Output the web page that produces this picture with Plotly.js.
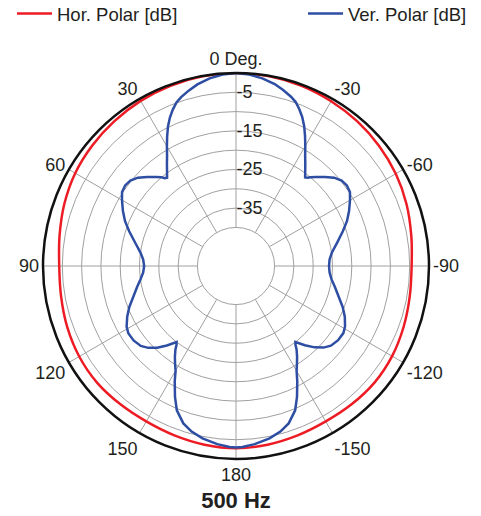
<!DOCTYPE html>
<html>
<head>
<meta charset="utf-8">
<script src="https://cdn.plot.ly/plotly-3.0.1.min.js"></script>
<style>html,body{margin:0;padding:0;background:#fff;}#chart{width:481px;height:516px;}</style>
</head>
<body>
<div id="chart"></div>
<script>
// Angular tick positions and labels
const angleTicks = [0, 30, 60, 90, 120, 150, 180, 210, 240, 270, 300, 330];
const angleLabels = ["0 Deg.", "30", "60", "90", "120", "150", "180", "-150", "-120", "-90", "-60", "-30"];
// Radial ticks (dB)
const radialTicks = [-40, -35, -30, -25, -20, -15, -10, -5];
const radialLabels = ["", "-35", "", "-25", "", "-15", "", "-5"];

// Horizontal polar [dB]
const horTheta = [-180, -170, -160, -150, -140, -130, -120, -110, -100, -90, -80, -70, -60, -50, -40, -30, -20, -10,
  0, 10, 20, 30, 40, 50, 60, 70, 80, 90, 100, 110, 120, 130, 140, 150, 160, 170, 180];
const horDb = [-2.8, -3.0, -3.3, -3.5, -3.3, -3.1, -3.3, -3.8, -4.3, -4.5, -3.9, -3.0, -2.2, -1.6, -1.1, -0.7, -0.3, -0.1,
  0, -0.1, -0.3, -0.6, -1.0, -1.4, -1.9, -2.7, -3.6, -4.2, -4.0, -3.5, -3.1, -3.0, -3.3, -3.5, -3.3, -3.0, -2.8];

// Vertical polar [dB]
const verTheta = [-180, -178, -174, -169, -165, -161.5, -157.7, -155, -152, -150, -148, -146, -144, -143, -142,
  -139, -136, -133, -130, -126, -122, -119, -115, -111, -107, -102, -98, -94, -90, -86, -82, -77, -72, -68, -64,
  -60, -57, -54, -51, -48, -45, -42, -40, -39, -38, -36, -34, -32, -30, -28, -26, -24, -22, -20, -18, -15, -12,
  -8, -4, 0, 4, 8, 12, 15, 18, 20, 22, 24, 26, 28, 30, 32, 34, 36, 38, 39, 40, 42, 45, 48, 51, 54, 57, 60, 64,
  68, 72, 77, 82, 86, 90, 94, 98, 102, 107, 111, 115, 119, 122, 126, 130, 133, 136, 139, 142, 143, 144, 146,
  148, 150, 152, 155, 157.7, 161.5, 165, 169, 174, 178, 180];
const verDb = [-3.0, -3.1, -3.6, -4.5, -5.6, -7.0, -9.6, -12.6, -16.2, -18.6, -20.2, -21.7, -23.3, -24.4, -25.0,
  -22.8, -20.7, -19.0, -17.9, -17.3, -17.2, -17.7, -18.9, -20.4, -22.1, -23.8, -25.0, -25.7, -25.9, -25.7, -24.9,
  -23.1, -20.9, -19.0, -17.4, -15.9, -14.8, -14.5, -14.8, -15.8, -17.4, -19.0, -20.0, -20.6, -20.9, -19.5, -17.9,
  -16.2, -14.1, -11.9, -9.7, -7.8, -6.2, -4.8, -3.9, -2.8, -1.8, -0.9, -0.3, 0, -0.3, -0.9, -1.9, -2.9, -4.0,
  -4.9, -6.3, -7.9, -9.8, -12.0, -14.2, -16.3, -18.0, -19.6, -21.0, -20.7, -20.0, -19.0, -17.4, -15.8, -14.8,
  -14.5, -14.8, -15.9, -17.4, -19.0, -20.9, -23.2, -25.0, -25.9, -26.2, -25.9, -25.0, -23.8, -22.1, -20.4, -18.9,
  -17.6, -17.1, -17.2, -17.8, -18.9, -20.6, -22.7, -25.0, -24.4, -23.3, -21.7, -20.2, -18.7, -16.2, -12.6, -9.6,
  -7.0, -5.6, -4.5, -3.6, -3.1, -3.0];

const FONT = "Liberation Sans, Arial, Helvetica, sans-serif";
const TXT = "#231f20";
const GRID = "#a0a0a0";

const data = [
  {
    type: "scatterpolar", mode: "lines", name: "Hor. Polar [dB]",
    theta: horTheta, r: horDb,
    line: {color: "#ed1c24", width: 2.5, shape: "spline", smoothing: 1},
    legend: "legend"
  },
  {
    type: "scatterpolar", mode: "lines", name: "Ver. Polar [dB]",
    theta: verTheta, r: verDb,
    line: {color: "#2e4ea3", width: 2.5},
    legend: "legend2"
  }
];

const legendCommon = {
  y: 1 - 14 / 516, yref: "container", yanchor: "middle",
  orientation: "h", itemwidth: 35,
  font: {family: FONT, size: 18.5, color: TXT},
  bgcolor: "rgba(0,0,0,0)"
};

const layout = {
  width: 481, height: 516,
  margin: {l: 43, r: 52, t: 73, b: 57},
  paper_bgcolor: "#ffffff",
  font: {family: FONT, color: TXT, size: 18},
  title: {
    text: "<b>500 Hz</b>",
    x: 0.5, xref: "paper", xanchor: "center",
    y: (516 - 500) / 516, yref: "container", yanchor: "middle",
    font: {family: FONT, size: 22, color: TXT}
  },
  showlegend: true,
  legend: Object.assign({x: 12 / 481, xref: "container", xanchor: "left"}, legendCommon),
  legend2: Object.assign({x: 303 / 481, xref: "container", xanchor: "left"}, legendCommon),
  // outer boundary ring of the polar frame
  shapes: [{
    type: "circle", xref: "paper", yref: "paper", x0: 0, x1: 1, y0: 0, y1: 1,
    line: {color: "#111111", width: 2.5}, layer: "above"
  }],
  polar: {
    bgcolor: "#ffffff",
    hole: 0.2,
    domain: {x: [0, 1], y: [0, 1]},
    angularaxis: {
      rotation: 90, direction: "counterclockwise",
      tickmode: "array", tickvals: angleTicks, ticktext: angleLabels,
      ticks: "", showline: true, linecolor: GRID, linewidth: 1,
      gridcolor: GRID, gridwidth: 1,
      tickfont: {family: FONT, size: 18, color: TXT}
    },
    radialaxis: {
      range: [-40, 0], angle: 90, tickangle: 90,
      tickmode: "array", tickvals: radialTicks, ticktext: radialLabels,
      ticks: "", showline: false,
      gridcolor: GRID, gridwidth: 1,
      tickfont: {family: FONT, size: 18, color: TXT}
    }
  }
};

Plotly.newPlot("chart", data, layout, {displayModeBar: false, staticPlot: true});
</script>
</body>
</html>
